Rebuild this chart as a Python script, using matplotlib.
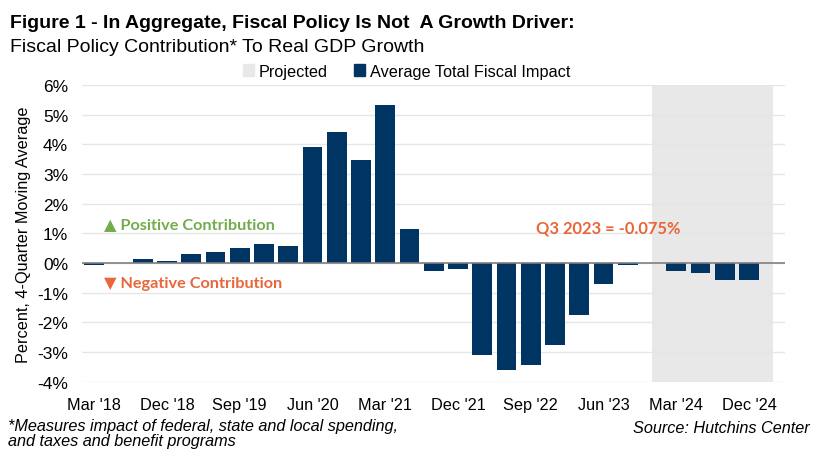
import numpy as np
import matplotlib
matplotlib.use("Agg")
import matplotlib.pyplot as plt
from matplotlib.patches import Patch

plt.rcParams['font.family'] = ['Liberation Sans', 'DejaVu Sans']

# quarterly values, Mar '18 .. Dec '24
quarters = ["Mar '18", "Jun '18", "Sep '18", "Dec '18",
            "Mar '19", "Jun '19", "Sep '19", "Dec '19",
            "Mar '20", "Jun '20", "Sep '20", "Dec '20",
            "Mar '21", "Jun '21", "Sep '21", "Dec '21",
            "Mar '22", "Jun '22", "Sep '22", "Dec '22",
            "Mar '23", "Jun '23", "Sep '23", "Dec '23",
            "Mar '24", "Jun '24", "Sep '24", "Dec '24"]
impact = [-0.07, 0.01, 0.12, 0.08,
          0.29, 0.38, 0.50, 0.65,
          0.57, 3.91, 4.43, 3.47,
          5.31, 1.15, -0.28, -0.19,
          -3.10, -3.61, -3.42, -2.76,
          -1.76, -0.72, -0.075, 0.0,
          -0.28, -0.33, -0.56, -0.56]
tick_labels = ["Mar '18", "Dec '18", "Sep '19", "Jun '20", "Mar '21",
               "Dec '21", "Sep '22", "Jun '23", "Mar '24", "Dec '24"]
y_ticks = [-4, -3, -2, -1, 0, 1, 2, 3, 4, 5, 6]

navy = '#003462'
orange = '#E8663A'
green = '#72AC4D'
fs = 11.7

fig = plt.figure(figsize=(8.13, 4.52), dpi=100)
ax = fig.add_axes([0.101, 0.153, 0.865, 0.657])

x = np.arange(len(quarters))
ax.axvspan(23.0, 28.0, color='#E8E8E8', zorder=0, lw=0)
ax.bar(x, impact, width=0.82, color=navy, zorder=3)
ax.axhline(0, color='#7F7F7F', lw=1.2, zorder=4)

ax.set_xlim(-0.5, 28.5)
ax.set_ylim(-4, 6)
ax.set_yticks(y_ticks)
ax.set_yticklabels([f"{t}%" for t in y_ticks], fontsize=12.5)
ax.set_xticks([quarters.index(t) for t in tick_labels])
ax.set_xticklabels(tick_labels, fontsize=fs)
ax.tick_params(axis='x', length=0, pad=11)
ax.tick_params(axis='y', length=0, pad=10)
ax.grid(axis='y', color='#E6E6E6', lw=1, zorder=1)
for s in ax.spines.values():
    s.set_visible(False)
ax.set_ylabel("Percent, 4-Quarter Moving Average", fontsize=fs)
ax.yaxis.set_label_coords(-0.072, 0.5)

ax.text(0.4, 1.32, "\u25B2 Positive Contribution", color=green, fontsize=fs,
        fontweight='bold', family=['Lato', 'DejaVu Sans'], va='center')
ax.text(0.4, -0.68, "\u25BC Negative Contribution", color=orange, fontsize=fs,
        fontweight='bold', family=['Lato', 'DejaVu Sans'], va='center')
ax.text(21.2, 1.2, "Q3 2023 = -0.075%", color=orange, fontsize=11.9,
        fontweight='bold', family=['Lato', 'DejaVu Sans'], ha='center', va='center')

fig.text(0.012, 0.949, "Figure 1 - In Aggregate, Fiscal Policy Is Not  A Growth Driver:",
         fontsize=14, fontweight='bold', va='center')
fig.text(0.012, 0.895, "Fiscal Policy Contribution* To Real GDP Growth",
         fontsize=14, va='center')

handles = [Patch(color='#E8E8E8', label='Projected'),
           Patch(color=navy, label='Average Total Fiscal Impact')]
fig.legend(handles=handles, loc='center', bbox_to_anchor=(0.5, 0.840), ncol=2,
           frameon=False, fontsize=fs, handlelength=0.7, handleheight=0.7,
           handletextpad=0.3, columnspacing=1.6)

fig.text(0.01, 0.074, "*Measures impact of federal, state and local spending,\nand taxes and benefit programs",
         fontsize=fs, style='italic', va='top', linespacing=1.05)
fig.text(0.996, 0.053, "Source: Hutchins Center", fontsize=fs, style='italic',
         ha='right', va='center')

fig.savefig("out.png", dpi=100)
